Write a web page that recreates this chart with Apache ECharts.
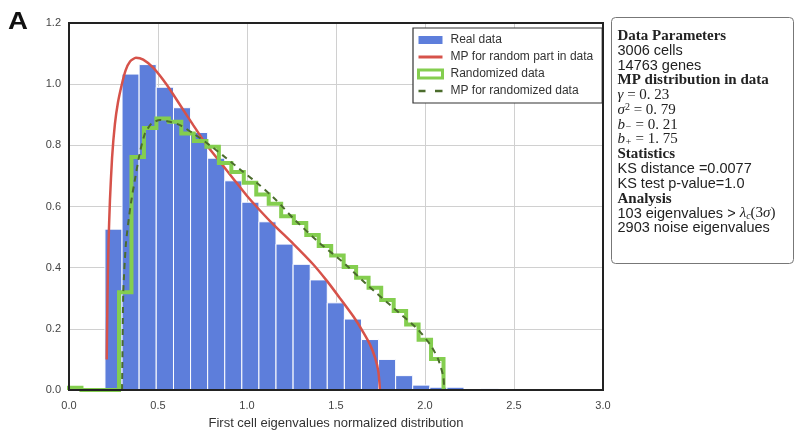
<!DOCTYPE html>
<html>
<head>
<meta charset="utf-8">
<script src="https://cdn.jsdelivr.net/npm/echarts@6/dist/echarts.min.js"></script>
<style>html,body{margin:0;padding:0;background:#fff;}#c{width:795px;height:433px;}</style>
</head>
<body>
<div id="c"></div>
<script>
// ---- data ----
const xTicks = [0.0, 0.5, 1.0, 1.5, 2.0, 2.5, 3.0];
const yTicks = [0.0, 0.2, 0.4, 0.6, 0.8, 1.0, 1.2];

// Real data histogram: bin edges and heights
const realEdges = [0.202, 0.298, 0.394, 0.490, 0.587, 0.683, 0.779, 0.875, 0.971, 1.067, 1.163, 1.259,
  1.355, 1.451, 1.547, 1.643, 1.739, 1.835, 1.931, 2.027, 2.123, 2.219, 2.315, 2.411];
const realHeights = [0.526, 1.033, 1.064, 0.990, 0.923, 0.842, 0.758, 0.684, 0.614, 0.550, 0.477,
  0.411, 0.360, 0.285, 0.232, 0.165, 0.100, 0.047, 0.016, 0.009, 0.009, 0.000, 0.004];

// MP for random part in data (red curve)
const mpRealX = [0.212, 0.216, 0.222, 0.230, 0.242, 0.258, 0.275, 0.295, 0.318, 0.343, 0.376, 0.417,
  0.474, 0.549, 0.624, 0.698, 0.774, 0.848, 0.923, 0.998, 1.073, 1.150, 1.260, 1.370, 1.450, 1.520,
  1.597, 1.650, 1.690, 1.720, 1.738, 1.747];
const mpRealY = [0.10, 0.30, 0.48, 0.62, 0.76, 0.87, 0.94, 0.995, 1.045, 1.074, 1.086, 1.080,
  1.053, 0.998, 0.932, 0.866, 0.800, 0.746, 0.691, 0.636, 0.587, 0.540, 0.478, 0.412, 0.356, 0.302,
  0.241, 0.192, 0.150, 0.105, 0.060, 0.000];

// Randomized data histogram (step outline)
const randEdges = [0.000, 0.070, 0.140, 0.210, 0.281, 0.351, 0.421, 0.491, 0.561, 0.631, 0.701, 0.772,
  0.842, 0.912, 0.982, 1.052, 1.122, 1.192, 1.263, 1.333, 1.403, 1.473, 1.543, 1.613, 1.683, 1.754,
  1.824, 1.894, 1.964, 2.034, 2.104];
const randHeights = [0.007, 0.000, 0.000, 0.000, 0.320, 0.762, 0.857, 0.888, 0.877, 0.839, 0.814, 0.795,
  0.742, 0.713, 0.678, 0.639, 0.609, 0.568, 0.546, 0.507, 0.471, 0.440, 0.402, 0.367, 0.334, 0.294,
  0.258, 0.214, 0.164, 0.101];

// MP for randomized data (dashed curve)
const mpRandX = [0.298, 0.300, 0.305, 0.320, 0.345, 0.371, 0.399, 0.427, 0.464, 0.511, 0.567, 0.624,
  0.698, 0.792, 0.886, 0.979, 1.073, 1.167, 1.262, 1.403, 1.541, 1.682, 1.822, 1.962, 2.037, 2.075,
  2.103, 2.108];
const mpRandY = [0.000, 0.100, 0.320, 0.480, 0.600, 0.690, 0.779, 0.839, 0.872, 0.883, 0.877, 0.866,
  0.839, 0.800, 0.757, 0.713, 0.669, 0.619, 0.560, 0.483, 0.417, 0.340, 0.269, 0.197, 0.142, 0.099,
  0.044, 0.000];

const seriesNames = ['Real data', 'MP for random part in data', 'Randomized data', 'MP for randomized data'];
const xAxisTitle = 'First cell eigenvalues normalized distribution';
const infoLines = [
  '{h|Data Parameters}',
  '{n|3006 cells}',
  '{n|14763 genes}',
  '{h|MP distribution in data}',
  '{m|γ}{r| = 0. 23}',
  '{m|σ}{sup|2}{r| = 0. 79}',
  '{m|b}{sub|−}{r| = 0. 21}',
  '{m|b}{sub|+}{r| = 1. 75}',
  '{h|Statistics}',
  '{n|KS distance =0.0077}',
  '{n|KS test p-value=1.0}',
  '{h|Analysis}',
  '{n|103 eigenvalues > }{m|λ}{sub|c}{r|(3}{m|σ}{r|)}',
  '{n|2903 noise eigenvalues}'
];

// ---- colours ----
const BLUE = '#5d7edb', RED = '#d6524a', GREEN = '#84ce4f', DKGREEN = '#4b6c2c';

// ---- build series data ----
const realData = realHeights.map((h, i) => [realEdges[i], realEdges[i + 1], h]);
const mpRealData = mpRealX.map((x, i) => [x, mpRealY[i]]);
const mpRandData = mpRandX.map((x, i) => [x, mpRandY[i]]);
const stepData = [[randEdges[0], 0]];
randHeights.forEach((h, i) => { stepData.push([randEdges[i], h]); stepData.push([randEdges[i + 1], h]); });
stepData.push([randEdges[randEdges.length - 1], 0]);

const chart = echarts.init(document.getElementById('c'), null, {renderer: 'canvas'});
const SANS = '"Liberation Sans", Arial, sans-serif';
const SERIF = '"Liberation Serif", "DejaVu Serif", serif';

chart.setOption({
  animation: false,
  backgroundColor: '#fff',
  grid: {left: 69, top: 23, width: 534, height: 367, show: true, z: 10, outerBoundsMode: 'none',
    containLabel: false,
    backgroundColor: 'transparent', borderColor: '#222', borderWidth: 2},
  xAxis: {
    type: 'value', min: xTicks[0], max: xTicks[xTicks.length - 1], interval: 0.5,
    name: xAxisTitle, nameLocation: 'middle', nameGap: 27,
    nameTextStyle: {fontFamily: SANS, fontSize: 13, color: '#333'},
    axisLine: {show: false}, axisTick: {show: false},
    axisLabel: {margin: 10, fontFamily: SANS, fontSize: 11, color: '#444', formatter: v => v.toFixed(1)},
    splitLine: {show: true, lineStyle: {color: '#d0d0d0', width: 1}}
  },
  yAxis: {
    type: 'value', min: yTicks[0], max: yTicks[yTicks.length - 1], interval: 0.2,
    axisLine: {show: false}, axisTick: {show: false},
    axisLabel: {margin: 8, fontFamily: SANS, fontSize: 11, color: '#444', formatter: v => v.toFixed(1)},
    splitLine: {show: true, lineStyle: {color: '#d0d0d0', width: 1}}
  },
  legend: {
    orient: 'vertical', left: 413, top: 28,
    padding: [6, 9, 6, 4], itemGap: 5, itemWidth: 24, itemHeight: 8,
    borderColor: '#333', borderWidth: 1.2, borderRadius: 0, backgroundColor: '#fff',
    textStyle: {fontFamily: SANS, fontSize: 12, color: '#333', padding: [0, 0, 0, 3]},
    data: [
      {name: seriesNames[0], icon: 'rect', itemStyle: {color: BLUE, borderWidth: 0}},
      {name: seriesNames[1], icon: 'path://M0,0H24V3H0Z', itemStyle: {color: RED, borderWidth: 0}},
      {name: seriesNames[2], icon: 'rect', itemStyle: {color: '#fff', borderColor: GREEN, borderWidth: 3}},
      {name: seriesNames[3], icon: 'path://M0,0H7V2.5H0Z M16.5,0H24V2.5H16.5Z', itemStyle: {color: DKGREEN, borderWidth: 0}}
    ]
  },
  series: [
    {
      name: seriesNames[0], type: 'custom', data: realData, encode: {x: [0, 1], y: 2}, z: 2,
      itemStyle: {color: BLUE},
      renderItem: function (params, api) {
        const p0 = api.coord([api.value(0), api.value(2)]);
        const p1 = api.coord([api.value(1), 0]);
        return {type: 'rect', shape: {x: p0[0], y: p0[1], width: p1[0] - p0[0], height: p1[1] - p0[1]},
          style: {fill: BLUE, stroke: '#fff', lineWidth: 1}};
      }
    },
    {
      name: seriesNames[1], type: 'line', data: mpRealData, showSymbol: false, symbol: 'none', z: 3,
      smooth: 0.2, lineStyle: {color: RED, width: 2.5}, itemStyle: {color: RED}
    },
    {
      name: seriesNames[2], type: 'line', data: stepData, showSymbol: false, symbol: 'none', z: 4,
      lineStyle: {color: GREEN, width: 4, join: 'miter'}, itemStyle: {color: GREEN}
    },
    {
      name: seriesNames[3], type: 'line', data: mpRandData, showSymbol: false, symbol: 'none', z: 5,
      smooth: 0.2, lineStyle: {color: DKGREEN, width: 2, type: [6, 5]}, itemStyle: {color: DKGREEN}
    }
  ],
  graphic: [
    {type: 'text', x: 8, y: 11, z: 20, scaleX: 1.2,
      style: {text: 'A', font: 'bold 23px ' + SANS, fill: '#111', verticalAlign: 'top'}},
    {type: 'group', left: 611, top: 17, z: 20, children: [
      {type: 'rect', shape: {x: 0, y: 0, width: 182, height: 246, r: 4},
        style: {fill: '#fff', stroke: '#777', lineWidth: 1}},
      {type: 'text', x: 6, y: 11,
        style: {
          text: infoLines.join('\n'), fill: '#222', verticalAlign: 'top',
          rich: {
            h: {fontFamily: SERIF, fontWeight: 'bold', fontSize: 15, lineHeight: 14.8, fill: '#222'},
            n: {fontFamily: SANS, fontSize: 14.5, lineHeight: 14.8, fill: '#222'},
            m: {fontFamily: SERIF, fontStyle: 'italic', fontSize: 15, lineHeight: 14.8, fill: '#222'},
            r: {fontFamily: SERIF, fontSize: 15, lineHeight: 14.8, fill: '#222'},
            sup: {fontFamily: SERIF, fontSize: 10, lineHeight: 14.8, verticalAlign: 'top', fill: '#222'},
            sub: {fontFamily: SERIF, fontStyle: 'italic', fontSize: 10, lineHeight: 14.8, verticalAlign: 'bottom', fill: '#222'}
          }
        }}
    ]}
  ]
});
</script>
</body>
</html>
